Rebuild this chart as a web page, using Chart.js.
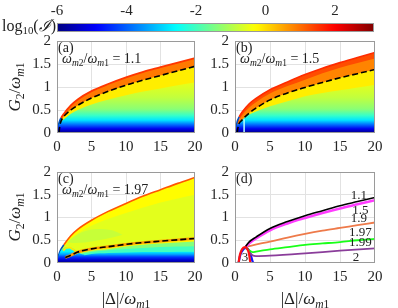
<!DOCTYPE html>
<html><head><meta charset="utf-8">
<script src="https://cdn.jsdelivr.net/npm/chart.js@4.4.0/dist/chart.umd.min.js"></script>
<style>
body{margin:0;background:#fff;}
#wrap{position:relative;width:398px;height:308px;overflow:hidden;font-family:"Liberation Serif","Times New Roman",serif;color:#222;}
canvas{position:absolute;}
.t{position:absolute;white-space:nowrap;line-height:1;transform:translate(-50%,-50%);}
.l{position:absolute;white-space:nowrap;line-height:1;}
sub{font-size:68%;vertical-align:baseline;position:relative;top:0.32em;}
.rot{transform:translate(-50%,-50%) rotate(-90deg);}
</style></head>
<body><div id="wrap">
<canvas id="cb" width="398" height="40" style="left:0;top:0"></canvas>
<canvas id="pa" width="200" height="136" style="left:10px;top:26px"></canvas>
<canvas id="pb" width="200" height="136" style="left:188px;top:26px"></canvas>
<canvas id="pc" width="200" height="136" style="left:10px;top:157px"></canvas>
<canvas id="pd" width="200" height="136" style="left:188px;top:157px"></canvas>

<div class="t" style="left:29px;top:26px;font-size:16px">log<sub>10</sub>(<i>ℐ</i>)</div>
<div class="t rot" style="left:14px;top:87px;font-size:17px"><i>G</i><sub>2</sub>/<i>ω</i><sub><i>m</i>1</sub></div>
<div class="t rot" style="left:14px;top:217px;font-size:17px"><i>G</i><sub>2</sub>/<i>ω</i><sub><i>m</i>1</sub></div>
<div class="t" style="left:126px;top:298px;font-size:17px">|Δ|/<i>ω</i><sub><i>m</i>1</sub></div>
<div class="t" style="left:305px;top:298px;font-size:17px">|Δ|/<i>ω</i><sub><i>m</i>1</sub></div>

<div class="l" style="left:58px;top:41px;font-size:14px">(a)</div>
<div class="l" style="left:62px;top:52px;font-size:14px"><i>ω</i><sub><i>m</i>2</sub>/<i>ω</i><sub><i>m</i>1</sub> = 1.1</div>
<div class="l" style="left:236px;top:41px;font-size:14px">(b)</div>
<div class="l" style="left:240px;top:52px;font-size:14px"><i>ω</i><sub><i>m</i>2</sub>/<i>ω</i><sub><i>m</i>1</sub> = 1.5</div>
<div class="l" style="left:58px;top:172px;font-size:14px">(c)</div>
<div class="l" style="left:62px;top:183px;font-size:14px"><i>ω</i><sub><i>m</i>2</sub>/<i>ω</i><sub><i>m</i>1</sub> = 1.97</div>
<div class="l" style="left:236px;top:172px;font-size:14px">(d)</div>
</div>
<script>
// ---------- data ----------
const cbMin = -6, cbMax = 3.12;
const cbTicks = [-6, -4, -2, 0, 2];
const xTicks = [0, 5, 10, 15, 20];
const yTicks = [0, 0.5, 1, 1.5, 2];

// panel (a)  wm2/wm1 = 1.1
const aEdgeX = [0, 0.15, 0.3, 0.6, 1, 2, 3, 5, 7.5, 10, 12.5, 15, 17.5, 20];
const aEdgeY = [0, 0.12, 0.22, 0.33, 0.42, 0.6, 0.73, 0.91, 1.07, 1.21, 1.33, 1.43, 1.53, 1.63];
const aDashX = [0.3, 0.4, 0.6, 1, 2, 3, 5, 7.5, 10, 12.5, 15, 17.5, 20];
const aDashY = [0, 0.15, 0.26, 0.36, 0.5, 0.6, 0.76, 0.91, 1.04, 1.15, 1.25, 1.35, 1.45];
const aYelX = [0, 0.3, 0.6, 1, 2, 3, 5, 7.5, 10, 12.5, 15, 17.5, 20];
const aYelY = [0, 0.2, 0.25, 0.3, 0.42, 0.5, 0.62, 0.73, 0.82, 0.9, 0.97, 1.04, 1.1];
const aProfG = [0, 0.09, 0.19, 0.28, 0.38, 0.52, 0.77, 1.1];
const aProfLog = [-6, -5.0, -3.8, -2.8, -2.1, -1.35, -0.85, -0.5];
const aBandLog = 0.9, aEdgeLog = 1.5, aYelLog = -0.15;

// panel (b)  wm2/wm1 = 1.5
const bEdgeX = [0, 0.15, 0.3, 0.6, 1, 2, 3, 5, 7.5, 10, 12.5, 15, 17.5, 20];
const bEdgeY = [0, 0.13, 0.24, 0.35, 0.45, 0.63, 0.75, 0.94, 1.11, 1.27, 1.41, 1.53, 1.64, 1.75];
const bOrX = [0.3, 0.6, 1, 2, 3, 5, 7.5, 10, 12.5, 15, 17.5, 20];
const bOrY = [0.16, 0.28, 0.38, 0.55, 0.67, 0.86, 1.02, 1.16, 1.3, 1.42, 1.52, 1.62];
const bDashX = [0.3, 0.5, 1, 2, 3, 5, 7.5, 10, 12.5, 15, 17.5, 20];
const bDashY = [0, 0.17, 0.28, 0.43, 0.54, 0.72, 0.87, 0.99, 1.1, 1.2, 1.29, 1.38];
const bYelX = [0, 0.3, 0.6, 1, 2, 3, 5, 7.5, 10, 12.5, 15, 17.5, 20];
const bYelY = [0, 0.18, 0.22, 0.28, 0.4, 0.47, 0.58, 0.69, 0.8, 0.87, 0.93, 0.99, 1.05];
const bProfG = [0, 0.09, 0.19, 0.28, 0.38, 0.52, 0.77, 1.1];
const bProfLog = [-6, -5.0, -3.8, -2.8, -2.1, -1.35, -0.85, -0.5];
const bEdgeLog = 1.3, bOrLog = 0.8, bYelLog = -0.15;
const bStreakX = [1.3, 1.3], bStreakY = [0, 0.3];

// panel (c)  wm2/wm1 = 1.97
const cEdgeX = [0, 0.2, 0.5, 1, 2, 3, 5, 7.5, 10, 12.5, 15, 17.5, 20];
const cEdgeY = [0, 0.15, 0.28, 0.4, 0.6, 0.74, 0.94, 1.14, 1.31, 1.47, 1.61, 1.75, 1.88];
const cYgX = [1, 2, 3, 5, 7.5, 10, 12.5, 15, 17.5, 20];
const cYgY = [0.36, 0.53, 0.65, 0.82, 0.97, 1.1, 1.22, 1.33, 1.42, 1.5];
const cBlobX = [1.5, 2.5, 4, 6, 8, 9.5];
const cBlobTop = [0.45, 0.58, 0.7, 0.75, 0.72, 0.62];
const cBlobBot = [0.45, 0.44, 0.45, 0.5, 0.56, 0.62];
const cLowX = [1.2, 2, 3, 5, 7.5, 10, 12.5, 15, 17.5, 20];
const cDashY = [0.12, 0.17, 0.24, 0.31, 0.36, 0.41, 0.45, 0.48, 0.51, 0.54];
const cGrY = [0.1, 0.14, 0.2, 0.27, 0.31, 0.36, 0.4, 0.43, 0.45, 0.47];
const cAqY = [0.08, 0.12, 0.17, 0.24, 0.28, 0.31, 0.33, 0.35, 0.36, 0.37];
const cCyY = [0.06, 0.1, 0.14, 0.2, 0.22, 0.23, 0.24, 0.24, 0.25, 0.25];
const cNearX = [0, 0.2, 0.5, 1, 1.5, 2, 2.5, 3, 3.5, 4];
const cNearY = [0, 0.14, 0.26, 0.33, 0.35, 0.34, 0.3, 0.24, 0.2, 0.18];
const cLoopX = [0.9, 1.3, 1.8, 2.3, 2.8, 3.2];
const cLoopY = [0.27, 0.33, 0.34, 0.3, 0.25, 0.24];
const cProfG = [0, 0.07, 0.13, 0.19, 0.25, 0.35];
const cProfLog = [-6, -5.2, -4.4, -3.4, -2.7, -2.2];
const cEdgeLog = 1.2, cYelLog = -0.28, cYgLog = -0.55, cBlobLog = -0.8,
      cDashLog = -0.2, cGrLog = -1.4, cAqLog = -2.0, cGlowLog = 0.6;

// panel (d)  threshold curves
const d11X = [1.5, 2, 3, 5, 7.5, 10, 12.5, 15, 17.5, 20];
const d11Y = [0.36, 0.46, 0.57, 0.76, 0.91, 1.04, 1.15, 1.26, 1.35, 1.44];
const d15X = [1.5, 2, 3, 5, 7.5, 10, 12.5, 15, 17.5, 20];
const d15Y = [0.35, 0.43, 0.54, 0.72, 0.87, 0.99, 1.1, 1.2, 1.29, 1.38];
const d19X = [1.5, 2.5, 5, 7.5, 10, 12.5, 15, 17.5, 20];
const d19Y = [0.35, 0.39, 0.47, 0.56, 0.64, 0.71, 0.77, 0.83, 0.89];
const d197X = [1.5, 2, 2.5, 3, 5, 7.5, 10, 12.5, 15, 17.5, 20];
const d197Y = [0.35, 0.28, 0.24, 0.25, 0.3, 0.35, 0.4, 0.43, 0.46, 0.5, 0.53];
const d199X = [1.5, 2, 2.5, 3, 5, 10, 15, 20];
const d199Y = [0.35, 0.25, 0.17, 0.15, 0.16, 0.21, 0.27, 0.32];
const d2X = [0.5, 0.8, 1.2, 1.6, 2.0, 2.3, 2.5, 2.65, 20];
const d2Y = [0, 0.2, 0.3, 0.33, 0.28, 0.15, 0.04, 0, 0];
const d3X = [0.5, 0.7, 1.0, 1.4, 1.8, 2.0, 2.15, 2.2];
const d3Y = [0, 0.18, 0.3, 0.35, 0.3, 0.2, 0.05, 0];
const dLabT = ['1.1', '1.5', '1.9', '1.97', '1.99', '2', '3'];
const dLabX = [17.7, 17.9, 17.7, 17.9, 17.9, 17.3, 1.43];
const dLabY = [1.49, 1.15, 0.97, 0.66, 0.44, 0.13, 0.11];

// ---------- helpers ----------
const FONT = '"Liberation Serif","Times New Roman",serif';
const clamp01 = v => Math.min(1, Math.max(0, v));
function jet(v) {
  const t = clamp01((v - cbMin) / (cbMax - cbMin));
  const c = k => Math.round(255 * clamp01(1.5 - Math.abs(4 * t - k)));
  return `rgb(${c(3)},${c(2)},${c(1)})`;
}
function vGrad(gs, logs) {
  return ctx => {
    const ch = ctx.chart;
    if (!ch.chartArea) return 'rgba(0,0,0,0)';
    const y = ch.scales.y;
    const g0 = gs[0], g1 = gs[gs.length - 1];
    const gr = ch.ctx.createLinearGradient(0, y.getPixelForValue(g0), 0, y.getPixelForValue(g1));
    gs.forEach((v, i) => gr.addColorStop(clamp01((v - g0) / (g1 - g0)), jet(logs[i])));
    return gr;
  };
}
const pts = (xs, ys) => xs.map((x, i) => ({ x, y: ys[i] }));
function area(xs, ys, color, order, extra) {
  return Object.assign({ data: pts(xs, ys), backgroundColor: color, borderWidth: 0, borderColor: 'rgba(0,0,0,0)',
    pointRadius: 0, fill: 'origin', order, cubicInterpolationMode: 'monotone' }, extra || {});
}
function line(xs, ys, color, width, order, extra) {
  return Object.assign({ data: pts(xs, ys), borderColor: color, borderWidth: width, pointRadius: 0, fill: false,
    order, cubicInterpolationMode: 'monotone' }, extra || {});
}
const boxPlugin = { id: 'box', afterDraw(ch) {
  const a = ch.chartArea, c = ch.ctx; c.save(); c.strokeStyle = '#9a9a9a'; c.lineWidth = 1;
  c.strokeRect(Math.round(a.left) + 0.5, Math.round(a.top) + 0.5, Math.round(a.right - a.left) - 1, Math.round(a.bottom - a.top) - 1);
  c.restore(); } };
const labelPlugin = { id: 'lbl', afterDatasetsDraw(ch, args, opts) {
  if (!opts || !opts.items) return; const c = ch.ctx; c.save();
  c.font = '13px ' + FONT; c.fillStyle = '#222'; c.textAlign = 'center'; c.textBaseline = 'middle';
  opts.items.forEach(it => c.fillText(it.t, ch.scales.x.getPixelForValue(it.x), ch.scales.y.getPixelForValue(it.y)));
  c.restore(); } };

function panel(id, padRight, bottomPad, datasets, items) {
  new Chart(document.getElementById(id), {
    type: 'line',
    data: { datasets },
    options: {
      responsive: false, animation: false, events: [], devicePixelRatio: 1,
      layout: { padding: { left: 17, top: 15, right: padRight, bottom: bottomPad } },
      plugins: { legend: { display: false }, tooltip: { enabled: false }, lbl: { items: items || null } },
      scales: {
        x: { type: 'linear', min: 0, max: 20,
          afterBuildTicks: s => { s.ticks = xTicks.map(v => ({ value: v })); },
          ticks: { font: { family: FONT, size: 15 }, color: '#262626', padding: 5, maxRotation: 0, callback: v => String(v) },
          grid: { drawTicks: false, color: c => (c.tick && (c.tick.value === 0 || c.tick.value === 20)) ? 'rgba(0,0,0,0)' : '#e2e2e2' },
          border: { display: false },
          afterFit: s => { s.height = 22; } },
        y: { type: 'linear', min: 0, max: 2,
          afterBuildTicks: s => { s.ticks = yTicks.map(v => ({ value: v })); },
          ticks: { font: { family: FONT, size: 15 }, color: '#262626', padding: 6, callback: v => String(v) },
          grid: { drawTicks: false, color: c => (c.tick && (c.tick.value === 0 || c.tick.value === 2)) ? 'rgba(0,0,0,0)' : '#e2e2e2' },
          border: { display: false },
          afterFit: s => { s.width = 30; } }
      }
    },
    plugins: [boxPlugin, labelPlugin]
  });
}

// ---------- colorbar ----------
new Chart(document.getElementById('cb'), {
  type: 'bar',
  data: { labels: ['c'], datasets: [{ data: [[cbMin, cbMax]], borderWidth: 0, barPercentage: 1, categoryPercentage: 1,
    backgroundColor: ctx => {
      const ch = ctx.chart; if (!ch.chartArea) return 'rgba(0,0,0,0)';
      const x = ch.scales.x; const gr = ch.ctx.createLinearGradient(x.getPixelForValue(cbMin), 0, x.getPixelForValue(cbMax), 0);
      for (let k = 0; k <= 76; k++) { const f = k / 76; gr.addColorStop(f, jet(cbMin + f * (cbMax - cbMin))); }
      return gr; } }] },
  options: {
    indexAxis: 'y', responsive: false, animation: false, events: [], devicePixelRatio: 1,
    layout: { padding: { left: 57, right: 24, top: 0, bottom: 8 } },
    plugins: { legend: { display: false }, tooltip: { enabled: false } },
    scales: {
      x: { type: 'linear', position: 'top', min: cbMin, max: cbMax,
        afterBuildTicks: s => { s.ticks = cbTicks.map(v => ({ value: v })); },
        ticks: { font: { family: FONT, size: 15 }, color: '#262626', padding: 3, callback: v => String(v) },
        grid: { display: false, drawTicks: false }, border: { display: false },
        afterFit: s => { s.height = 23; } },
      y: { display: false }
    }
  },
  plugins: [boxPlugin]
});

// ---------- panel (a) ----------
panel('pa', 15, 7, [
  line(aDashX, aDashY, '#000', 1.6, 1, { borderDash: [6, 3] }),
  area(aYelX, aYelY, vGrad(aProfG, aProfLog), 5),
  area(aDashX, aDashY, jet(aYelLog), 6),
  area(aEdgeX, aEdgeY, jet(aBandLog), 7, { borderWidth: 1.8, borderColor: jet(aEdgeLog),
    segment: { borderColor: s => s.p0.parsed.x < 0.6 ? '#0050c0' : undefined } })
]);

// ---------- panel (b) ----------
panel('pb', 13, 7, [
  line(bDashX, bDashY, '#000', 1.6, 1, { borderDash: [6, 3] }),
  line(bStreakX, bStreakY, '#b8ffff', 1.5, 2),
  area(bYelX, bYelY, vGrad(bProfG, bProfLog), 5),
  area(bDashX, bDashY, jet(bYelLog), 6),
  area(bOrX, bOrY, jet(bOrLog), 7),
  area(bEdgeX, bEdgeY, jet(bEdgeLog), 8, { borderWidth: 1.6, borderColor: jet(1.6),
    segment: { borderColor: s => s.p0.parsed.x < 0.6 ? '#0050c0' : undefined } })
]);

// ---------- panel (c) ----------
panel('pc', 15, 8, [
  line(cLowX, cDashY, '#000', 1.6, 1, { borderDash: [6, 3] }),
  line(cLowX, cDashY, jet(cGlowLog), 2.6, 2),
  line(cLoopX, cLoopY, jet(-0.1), 1.8, 3),
  area(cNearX, cNearY, vGrad(cProfG, cProfLog), 4),
  area(cLowX, cCyY, vGrad(cProfG, cProfLog), 5),
  area(cLowX, cAqY, jet(cAqLog), 7),
  area(cLowX, cGrY, jet(cGrLog), 8),
  area(cLowX, cDashY, jet(cDashLog), 9),
  area(cBlobX, cBlobTop, jet(cBlobLog), 10, { fill: '+1' }),
  area(cBlobX, cBlobBot, 'rgba(0,0,0,0)', 11, { fill: false }),
  area(cYgX, cYgY, jet(cYgLog), 12),
  area(cEdgeX, cEdgeY, jet(cYelLog), 13, { borderWidth: 1.6, borderColor: jet(cEdgeLog),
    segment: { borderColor: s => s.p0.parsed.x < 0.6 ? '#0050c0' : undefined } })
]);

// ---------- panel (d) ----------
panel('pd', 13, 8, [
  line(d11X, d11Y, '#000', 1.6, 2),
  line(d15X, d15Y, '#ff3cff', 2.6, 3),
  line(d19X, d19Y, '#ee7a4a', 1.8, 4),
  line(d197X, d197Y, '#19ff19', 1.8, 5),
  line(d199X, d199Y, '#8a3d9a', 1.8, 6),
  line(d2X, d2Y, '#1414ff', 2.2, 7),
  line(d3X, d3Y, '#ff1010', 2.2, 1)
], dLabT.map((t, i) => ({ t, x: dLabX[i], y: dLabY[i] })));
</script>
</body></html>
